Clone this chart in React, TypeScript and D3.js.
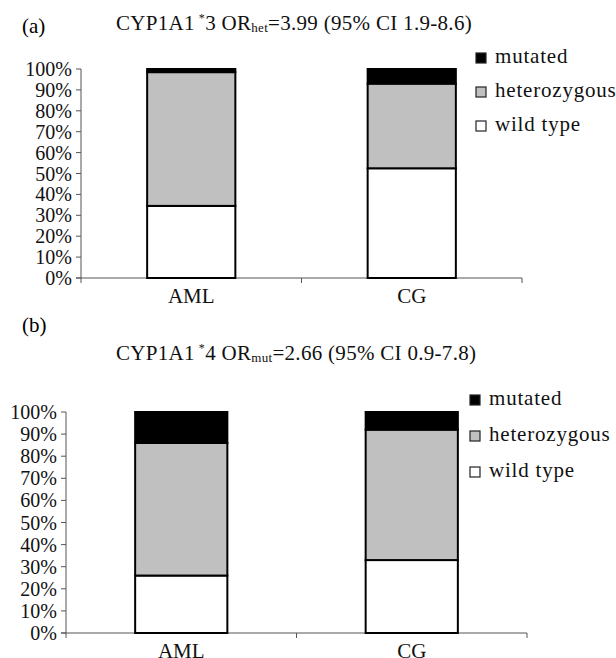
import React, { useEffect, useRef } from "react";
import * as d3 from "d3";

// groups on the x axis
const groups = ["AML", "CG"];
// stacked series, bottom to top
const seriesKeys = ["wild type", "heterozygous", "mutated"];
const legendLabels = ["mutated", "heterozygous", "wild type"];

// panel (a) CYP1A1*3 percentages
const wildTypeA = [34.5, 52.5];
const heteroA = [64, 40.5];
const mutatedA = [1.5, 7];

// panel (b) CYP1A1*4 percentages
const wildTypeB = [26, 33];
const heteroB = [60, 59];
const mutatedB = [14, 8];

const yTicks = [0, 10, 20, 30, 40, 50, 60, 70, 80, 90, 100];

const colors = { "wild type": "#ffffff", heterozygous: "#c0c0c0", mutated: "#000000" };

const FONT = "Liberation Serif, Times New Roman, serif";

const panels = [
  {
    tag: "(a)",
    gene: "CYP1A1",
    star: "3",
    sub: "het",
    rest: "=3.99 (95% CI 1.9-8.6)",
    wt: wildTypeA, het: heteroA, mut: mutatedA,
    tagY: 33, titleY: 30,
    left: 81, right: 522, top: 69, bottom: 278,
    labelX: 72,
    legendX: 476, legendY: 53, legendStep: 34,
  },
  {
    tag: "(b)",
    gene: "CYP1A1",
    star: "4",
    sub: "mut",
    rest: "=2.66 (95% CI 0.9-7.8)",
    wt: wildTypeB, het: heteroB, mut: mutatedB,
    tagY: 332, titleY: 360,
    left: 66, right: 527, top: 412, bottom: 633,
    labelX: 57,
    legendX: 470, legendY: 395, legendStep: 36,
  },
];

const App = () => {
  const container = useRef<SVGSVGElement>(null);

  useEffect(() => {
    const svg = d3.select(container.current);
    svg.selectAll("*").remove();

    panels.forEach((p) => {
      const g = svg.append("g");

      // tag and title
      g.append("text")
        .attr("x", 22).attr("y", p.tagY)
        .attr("font-family", FONT).attr("font-size", 21)
        .text(p.tag);

      const title = g.append("text")
        .attr("x", 116).attr("y", p.titleY)
        .attr("font-family", FONT).attr("font-size", 21)
        .attr("letter-spacing", 0.3)
        .attr("fill", "#111");
      title.append("tspan").text(p.gene);
      title.append("tspan").attr("dx", 4).attr("dy", -8).attr("font-size", 12).text("*");
      title.append("tspan").attr("dy", 8).text(p.star + " OR");
      title.append("tspan").attr("font-size", 13).attr("dy", 2).text(p.sub);
      title.append("tspan").attr("dy", -2).text(p.rest);

      const x = d3.scaleBand().domain(groups).range([p.left, p.right]).padding(0);
      const y = d3.scaleLinear().domain([0, 100]).range([p.bottom, p.top]);

      // y axis
      g.append("line")
        .attr("x1", p.left).attr("x2", p.left)
        .attr("y1", y(0)).attr("y2", y(100))
        .attr("stroke", "#555").attr("stroke-width", 1);
      yTicks.forEach((t) => {
        g.append("line")
          .attr("x1", p.left - 5).attr("x2", p.left)
          .attr("y1", y(t)).attr("y2", y(t))
          .attr("stroke", "#555");
        g.append("text")
          .attr("x", p.labelX).attr("y", y(t) + 7)
          .attr("text-anchor", "end")
          .attr("font-family", FONT).attr("font-size", 20)
          .attr("fill", "#111")
          .text(t + "%");
      });

      // x axis
      g.append("line")
        .attr("x1", p.left - 5).attr("x2", p.right)
        .attr("y1", y(0)).attr("y2", y(0))
        .attr("stroke", "#555");
      [...groups.map((d) => x(d) as number), p.right].forEach((xx) => {
        g.append("line")
          .attr("x1", xx).attr("x2", xx)
          .attr("y1", y(0)).attr("y2", y(0) + 5)
          .attr("stroke", "#555");
      });
      groups.forEach((d) => {
        g.append("text")
          .attr("x", (x(d) as number) + x.bandwidth() / 2)
          .attr("y", y(0) + 25)
          .attr("text-anchor", "middle")
          .attr("font-family", FONT).attr("font-size", 21)
          .attr("fill", "#111")
          .text(d);
      });

      // stacked bars
      const rows = groups.map((d, i) => ({
        group: d,
        "wild type": p.wt[i],
        heterozygous: p.het[i],
        mutated: p.mut[i],
      }));
      const stacked = d3.stack<any>().keys(seriesKeys)(rows);
      const barW = x.bandwidth() * 0.4;

      stacked.forEach((layer) => {
        g.selectAll(null)
          .data(layer)
          .enter()
          .append("rect")
          .attr("x", (d: any) => (x(d.data.group) as number) + (x.bandwidth() - barW) / 2)
          .attr("y", (d: any) => y(d[1]))
          .attr("width", barW)
          .attr("height", (d: any) => y(d[0]) - y(d[1]))
          .attr("fill", (colors as any)[layer.key])
          .attr("stroke", "#000")
          .attr("stroke-width", 2);
      });

      // legend
      legendLabels.forEach((name, i) => {
        const ly = p.legendY + i * p.legendStep;
        g.append("rect")
          .attr("x", p.legendX).attr("y", ly)
          .attr("width", 10).attr("height", 10)
          .attr("fill", (colors as any)[name])
          .attr("stroke", "#222").attr("stroke-width", 1.2);
        g.append("text")
          .attr("x", p.legendX + 19).attr("y", ly + 10)
          .attr("font-family", FONT).attr("font-size", 21)
          .attr("letter-spacing", 0.8)
          .attr("fill", "#111")
          .text(name);
      });
    });
  }, []);

  return (
    <svg ref={container} width={616} height={658}
      style={{ position: "absolute", left: 0, top: 0, background: "#fff" }} />
  );
};

export default App;
